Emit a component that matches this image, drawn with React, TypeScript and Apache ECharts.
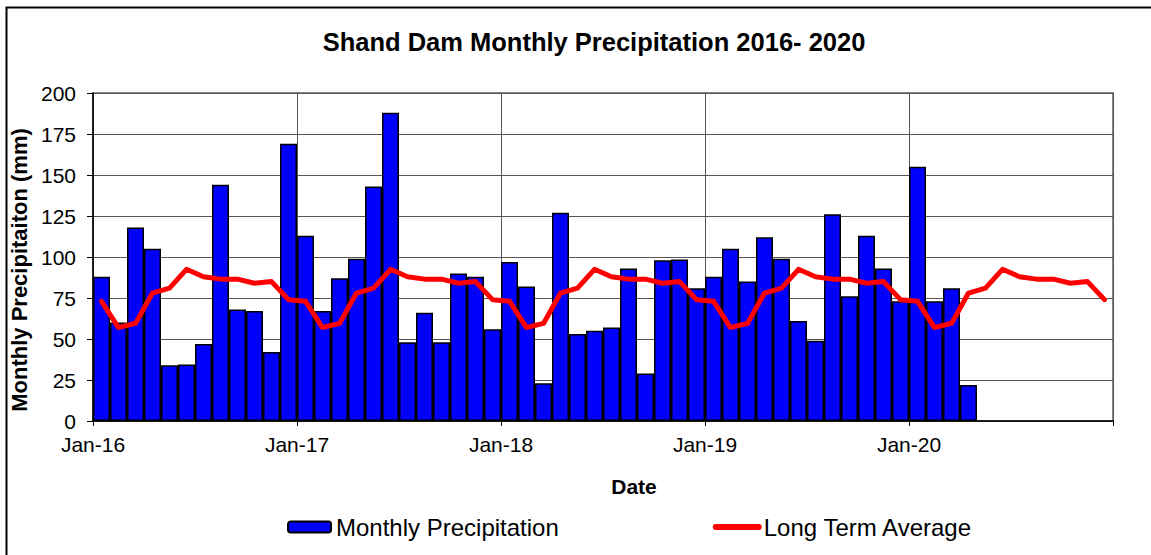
import React, { useEffect, useRef } from "react";
import * as echarts from "echarts";

const FONT = "'Liberation Sans', Arial, sans-serif";

const years = ["16", "17", "18", "19", "20"];
const monthNames = ["Jan", "Feb", "Mar", "Apr", "May", "Jun", "Jul", "Aug", "Sep", "Oct", "Nov", "Dec"];
const categories = years.flatMap((y) => monthNames.map((m) => `${m}-${y}`));

const yearTickLabels = ["Jan-16", "Jan-17", "Jan-18", "Jan-19", "Jan-20", ""];

const monthlyPrecipitation = [
  88, 60, 118, 105, 34, 34.5, 47, 144, 68, 67, 42, 169,
  113, 67, 87, 99, 143, 188, 48, 66, 48, 90, 88, 56,
  97, 82, 23, 127, 53, 55, 57, 93, 29, 98, 98.5, 81,
  88, 105, 85, 112, 99, 61, 49, 126, 76, 113, 93, 73,
  155, 73, 81, 22,
];

const longTermMonthlyAverage = [73, 57, 59.5, 78, 81, 92.5, 88, 86.5, 86.5, 84, 85, 74];
const longTermAverage = years.flatMap(() => longTermMonthlyAverage);

export default function App() {
  const ref = useRef<HTMLDivElement>(null);
  useEffect(() => {
    if (!ref.current) return;
    const chart = echarts.init(ref.current, undefined, { renderer: "svg" });
    chart.setOption({
      animation: false,
      backgroundColor: "#fff",
      textStyle: { fontFamily: FONT },
      title: {
        text: "Shand Dam Monthly Precipitation 2016- 2020",
        left: 589,
        textAlign: "center",
        top: 24,
        textStyle: { fontSize: 25.5, fontWeight: "bold", color: "#000", fontFamily: FONT },
      },
      legend: {
        data: [
          { name: "Monthly Precipitation" },
          {
            name: "Long Term Average",
            itemStyle: { opacity: 0 },
            lineStyle: { width: 6, color: "#FF0000", cap: "round" },
          },
        ],
        left: 282,
        top: 510,
        itemWidth: 43,
        itemHeight: 11,
        itemGap: 154,
        textStyle: { fontSize: 24, color: "#000", fontFamily: FONT },
      },
      grid: {
        left: 93,
        top: 93,
        width: 1020,
        height: 328,
        show: true,
        borderColor: "#888",
        borderWidth: 2,
        backgroundColor: "transparent",
      },
      xAxis: [
        {
          type: "category",
          data: categories,
          boundaryGap: true,
          axisLine: { show: true, lineStyle: { color: "#000", width: 1.5 } },
          axisTick: { show: false },
          axisLabel: { show: false },
          splitLine: { show: false },
        },
        {
          type: "value",
          min: 0,
          max: 60,
          interval: 12,
          position: "bottom",
          axisLine: { show: false },
          axisTick: { show: true, length: 5, lineStyle: { color: "#000" } },
          axisLabel: {
            formatter: (v: number) => yearTickLabels[Math.round(v / 12)] ?? "",
            fontSize: 21,
            color: "#000",
            margin: 13,
            fontFamily: FONT,
          },
          splitLine: { show: true, lineStyle: { color: "#555", width: 1 } },
          name: "Date",
          nameLocation: "middle",
          nameGap: 55,
          nameTextStyle: {
            fontSize: 21,
            fontWeight: "bold",
            color: "#000",
            fontFamily: FONT,
            padding: [0, 0, 0, 62],
          },
        },
      ],
      yAxis: {
        type: "value",
        min: 0,
        max: 200,
        interval: 25,
        axisLine: { show: true, lineStyle: { color: "#000", width: 1.5 } },
        axisTick: { show: true, length: 6, lineStyle: { color: "#000" } },
        axisLabel: { fontSize: 21, color: "#000", margin: 17, fontFamily: FONT },
        splitLine: { show: true, lineStyle: { color: "#555", width: 1 } },
        name: "Monthly Precipitaiton (mm)",
        nameLocation: "middle",
        nameGap: 60,
        nameRotate: 90,
        nameTextStyle: {
          fontSize: 22,
          fontWeight: "bold",
          color: "#000",
          fontFamily: FONT,
          padding: [0, 26, 0, 0],
        },
      },
      series: [
        {
          name: "Monthly Precipitation",
          type: "bar",
          xAxisIndex: 0,
          data: monthlyPrecipitation,
          barCategoryGap: "0%",
          itemStyle: { color: "#0000FF", borderColor: "#000", borderWidth: 1.5 },
        },
        {
          name: "Long Term Average",
          type: "line",
          xAxisIndex: 0,
          data: longTermAverage,
          symbol: "none",
          showSymbol: false,
          lineStyle: { color: "#FF0000", width: 5, cap: "round", join: "round" },
          itemStyle: { color: "#FF0000" },
          z: 5,
        },
      ],
      graphic: [
        {
          type: "rect",
          left: 4,
          top: 5,
          shape: { x: 0, y: 0, width: 1160, height: 560 },
          style: { fill: "none", stroke: "#000", lineWidth: 2 },
          silent: true,
        },
      ],
    });
    return () => chart.dispose();
  }, []);
  return (
    <div
      ref={ref}
      style={{ position: "absolute", left: 0, top: 0, width: 1151, height: 555, background: "#fff" }}
    />
  );
}
